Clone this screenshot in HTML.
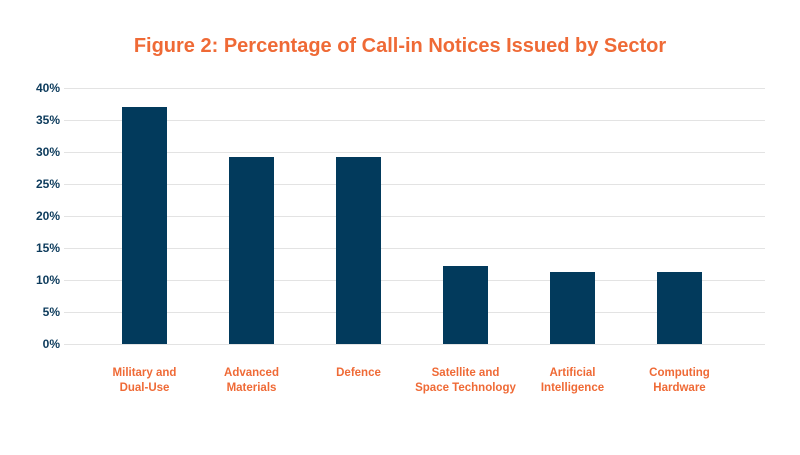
<!DOCTYPE html>
<html><head><style>
body{margin:0;background:#fff;}
svg text{font-family:"Liberation Sans Narrow","Liberation Sans",sans-serif;font-weight:bold;}
</style></head><body>
<svg width="800" height="450" xmlns="http://www.w3.org/2000/svg">
<rect width="800" height="450" fill="#fff"/>
<text x="400" y="52" text-anchor="middle" font-size="20" fill="#ef6a36">Figure 2: Percentage of Call-in Notices Issued by Sector</text>
<g stroke="#e3e3e3" stroke-width="1">
<line x1="64" x2="765" y1="88.5" y2="88.5"/><line x1="64" x2="765" y1="120.5" y2="120.5"/>
<line x1="64" x2="765" y1="152.5" y2="152.5"/><line x1="64" x2="765" y1="184.5" y2="184.5"/>
<line x1="64" x2="765" y1="216.5" y2="216.5"/><line x1="64" x2="765" y1="248.5" y2="248.5"/>
<line x1="64" x2="765" y1="280.5" y2="280.5"/><line x1="64" x2="765" y1="312.5" y2="312.5"/>
<line x1="64" x2="765" y1="344.5" y2="344.5"/>
</g>
<g font-size="12" fill="#0d3b5c" text-anchor="end">
<text x="60" y="92">40%</text><text x="60" y="124">35%</text><text x="60" y="156">30%</text>
<text x="60" y="188">25%</text><text x="60" y="220">20%</text><text x="60" y="252">15%</text>
<text x="60" y="284">10%</text><text x="60" y="316">5%</text><text x="60" y="348">0%</text>
</g>
<g fill="#023a5c">
<rect x="122" y="107" width="45" height="237"/>
<rect x="229" y="157" width="45" height="187"/>
<rect x="336" y="157" width="45" height="187"/>
<rect x="443" y="266" width="45" height="78"/>
<rect x="550" y="272" width="45" height="72"/>
<rect x="657" y="272" width="45" height="72"/>
</g>
<g font-size="11.5" fill="#ef6a36" text-anchor="middle">
<text x="144.5" y="376">Military and</text><text x="144.5" y="391">Dual-Use</text>
<text x="251.5" y="376">Advanced</text><text x="251.5" y="391">Materials</text>
<text x="358.5" y="376">Defence</text>
<text x="465.5" y="376">Satellite and</text><text x="465.5" y="391">Space Technology</text>
<text x="572.5" y="376">Artificial</text><text x="572.5" y="391">Intelligence</text>
<text x="679.5" y="376">Computing</text><text x="679.5" y="391">Hardware</text>
</g>
</svg>
</body></html>
